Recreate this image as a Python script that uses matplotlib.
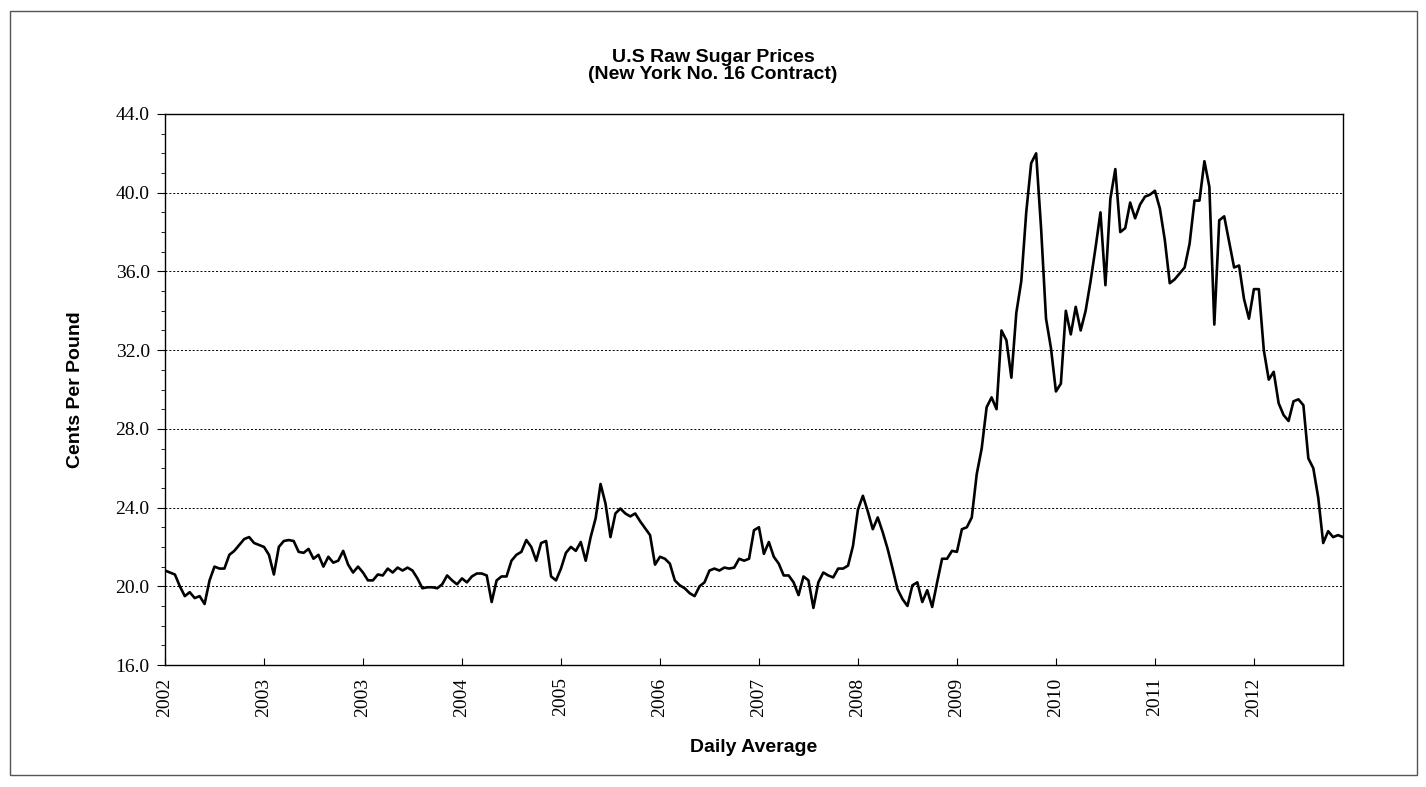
import matplotlib
matplotlib.use("Agg")
import matplotlib.pyplot as plt
from matplotlib.patches import Rectangle
from matplotlib.ticker import MultipleLocator

# sampled price readings (cents per pound), evenly spaced, 20 samples per tick
prices = [
    20.8, 20.7, 20.6, 20.0, 19.5, 19.7, 19.4, 19.5, 19.1, 20.3,
    21.0, 20.9, 20.9, 21.6, 21.8, 22.1, 22.4, 22.5, 22.2, 22.1,
    22.0, 21.6, 20.6, 22.0, 22.3, 22.35, 22.3, 21.75, 21.7, 21.9,
    21.4, 21.6, 21.0, 21.5, 21.2, 21.3, 21.8, 21.1, 20.7, 21.0,
    20.7, 20.3, 20.3, 20.6, 20.55, 20.9, 20.7, 20.95, 20.8, 20.95,
    20.8, 20.4, 19.9, 19.95, 19.95, 19.9, 20.1, 20.55, 20.3, 20.1,
    20.4, 20.2, 20.5, 20.65, 20.65, 20.55, 19.2, 20.3, 20.5, 20.5,
    21.3, 21.6, 21.75, 22.35, 22.0, 21.3, 22.2, 22.3, 20.5, 20.3,
    20.9, 21.7, 22.0, 21.8, 22.25, 21.3, 22.5, 23.45, 25.2, 24.2,
    22.5, 23.7, 23.95, 23.7, 23.55, 23.7, 23.3, 22.95, 22.6, 21.1,
    21.5, 21.4, 21.15, 20.3, 20.05, 19.9, 19.65, 19.5, 20.0, 20.2,
    20.8, 20.9, 20.8, 20.95, 20.9, 20.95, 21.4, 21.3, 21.4, 22.85,
    23.0, 21.65, 22.25, 21.5, 21.15, 20.55, 20.55, 20.2, 19.55, 20.5,
    20.3, 18.9, 20.2, 20.7, 20.55, 20.45, 20.9, 20.9, 21.05, 22.05,
    23.9, 24.6, 23.8, 22.9, 23.5, 22.75, 21.9, 20.9, 19.85, 19.35,
    19.0, 20.05, 20.2, 19.2, 19.8, 18.95, 20.2, 21.4, 21.4, 21.8,
    21.75, 22.9, 23.0, 23.5, 25.7, 27.0, 29.1, 29.6, 29.0, 33.0,
    32.5, 30.6, 33.9, 35.5, 39.0, 41.5, 42.0, 38.2, 33.6, 32.1,
    29.9, 30.3, 34.0, 32.8, 34.2, 33.0, 34.0, 35.5, 37.2, 39.0,
    35.3, 39.7, 41.2, 38.0, 38.2, 39.5, 38.7, 39.4, 39.8, 39.9,
    40.1, 39.2, 37.6, 35.4, 35.6, 35.9, 36.2, 37.4, 39.6, 39.6,
    41.6, 40.3, 33.3, 38.6, 38.8, 37.5, 36.2, 36.3, 34.6, 33.6,
    35.1, 35.1, 32.0, 30.5, 30.9, 29.3, 28.7, 28.4, 29.4, 29.5,
    29.2, 26.5, 26.0, 24.5, 22.2, 22.8, 22.5, 22.6, 22.5,
]
tick_labels = ["2002", "2003", "2003", "2004", "2005", "2006",
               "2007", "2008", "2009", "2010", "2011", "2012"]
tick_step = 20

W, H = 1426, 787
fig = plt.figure(figsize=(W / 100, H / 100), dpi=100)
fig.patches.append(Rectangle((10 / W, 12 / H), 1407 / W, 764 / H,
                             transform=fig.transFigure, fill=False,
                             edgecolor="#555555", linewidth=1.0))

ax = fig.add_axes([165 / W, 1 - 665 / H, 1178 / W, 551 / H])
ax.plot(range(len(prices)), prices, color="black", linewidth=1.9)

ax.set_xlim(0, len(prices) - 1)
ax.set_ylim(16, 44)
ax.set_yticks(range(16, 45, 4))
ax.set_yticklabels([f"{v:.1f}" for v in range(16, 45, 4)],
                   family="Liberation Serif", fontsize=14)
ax.yaxis.set_minor_locator(MultipleLocator(1))
ax.tick_params(axis="y", which="major", direction="out", length=6, pad=5)
ax.tick_params(axis="y", which="minor", direction="out", length=3)

ax.set_xticks([k * tick_step for k in range(len(tick_labels))])
ax.set_xticklabels(tick_labels, rotation=90, family="Liberation Serif",
                   fontsize=14)
ax.tick_params(axis="x", direction="in", length=5, pad=9)

for v in range(20, 41, 4):
    ax.axhline(v, color="black", linestyle=(0, (2, 2)), linewidth=0.7,
               zorder=0)

for s in ax.spines.values():
    s.set_linewidth(1.0)

ax.set_ylabel("Cents Per Pound", family="Liberation Sans", fontweight="bold",
              fontsize=14, va="center")
ax.yaxis.set_label_coords((76 - 165) / 1178, 0.5)
ax.set_xlabel("Daily Average", family="Liberation Sans", fontweight="bold",
              fontsize=14, va="center")
ax.xaxis.set_label_coords(0.5, (665 - 748) / 551)
fig.text(713 / W, 1 - 66 / H, "U.S Raw Sugar Prices\n(New York No. 16 Contract)",
         ha="center", va="center", family="Liberation Sans",
         fontweight="bold", fontsize=14, linespacing=1.05)

fig.savefig("out.png", dpi=100)
